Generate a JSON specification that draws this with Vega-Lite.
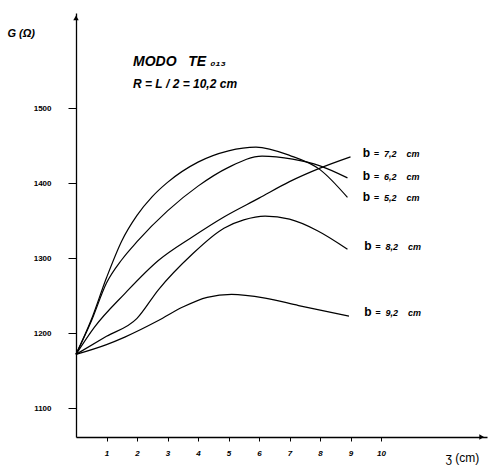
{
  "$schema": "https://vega.github.io/schema/vega-lite/v6.json",
  "autosize": "none",
  "width": 411,
  "height": 424,
  "padding": {"left": 76, "top": 13, "right": 3, "bottom": 29},
  "background": "white",
  "title": {
    "text": "MODO\u00a0\u00a0\u00a0TE\u00a0₀₁₃",
    "subtitle": "R\u00a0=\u00a0L\u00a0/\u00a02\u00a0=\u00a010,2\u00a0cm",
    "anchor": "start",
    "frame": "group",
    "offset": -77,
    "dx": 57,
    "font": "Liberation Sans",
    "fontSize": 14,
    "fontWeight": "bold",
    "fontStyle": "italic",
    "color": "black",
    "subtitleFont": "Liberation Sans",
    "subtitleFontSize": 12,
    "subtitleFontWeight": "bold",
    "subtitleFontStyle": "italic",
    "subtitleColor": "black",
    "subtitlePadding": 10
  },
  "datasets": {
    "curves": [
      {"b": "5,2", "x": 0, "G": 1172}, {"b": "5,2", "x": 0.5, "G": 1218}, {"b": "5,2", "x": 1, "G": 1274}, {"b": "5,2", "x": 1.5, "G": 1323}, {"b": "5,2", "x": 2, "G": 1357}, {"b": "5,2", "x": 2.5, "G": 1382}, {"b": "5,2", "x": 3, "G": 1401}, {"b": "5,2", "x": 4, "G": 1428}, {"b": "5,2", "x": 5, "G": 1443}, {"b": "5,2", "x": 5.9, "G": 1448}, {"b": "5,2", "x": 7, "G": 1437}, {"b": "5,2", "x": 8, "G": 1418}, {"b": "5,2", "x": 8.9, "G": 1381},
      {"b": "6,2", "x": 0, "G": 1172}, {"b": "6,2", "x": 0.5, "G": 1216}, {"b": "6,2", "x": 1, "G": 1267}, {"b": "6,2", "x": 1.5, "G": 1298}, {"b": "6,2", "x": 2, "G": 1322}, {"b": "6,2", "x": 3, "G": 1363}, {"b": "6,2", "x": 4, "G": 1396}, {"b": "6,2", "x": 5, "G": 1421}, {"b": "6,2", "x": 6.1, "G": 1436}, {"b": "6,2", "x": 7.1, "G": 1432}, {"b": "6,2", "x": 8, "G": 1423}, {"b": "6,2", "x": 8.9, "G": 1407},
      {"b": "7,2", "x": 0, "G": 1172}, {"b": "7,2", "x": 0.6, "G": 1208}, {"b": "7,2", "x": 1.6, "G": 1253}, {"b": "7,2", "x": 2.7, "G": 1297}, {"b": "7,2", "x": 3.8, "G": 1328}, {"b": "7,2", "x": 4.85, "G": 1355}, {"b": "7,2", "x": 6, "G": 1380}, {"b": "7,2", "x": 7, "G": 1402}, {"b": "7,2", "x": 8, "G": 1420}, {"b": "7,2", "x": 9, "G": 1435},
      {"b": "8,2", "x": 0, "G": 1172}, {"b": "8,2", "x": 1, "G": 1196}, {"b": "8,2", "x": 2, "G": 1220}, {"b": "8,2", "x": 2.7, "G": 1258}, {"b": "8,2", "x": 3.8, "G": 1305}, {"b": "8,2", "x": 4.85, "G": 1340}, {"b": "8,2", "x": 5.5, "G": 1351}, {"b": "8,2", "x": 6.2, "G": 1356}, {"b": "8,2", "x": 7, "G": 1352}, {"b": "8,2", "x": 7.9, "G": 1337}, {"b": "8,2", "x": 8.9, "G": 1312},
      {"b": "9,2", "x": 0, "G": 1172}, {"b": "9,2", "x": 1, "G": 1185}, {"b": "9,2", "x": 1.6, "G": 1195}, {"b": "9,2", "x": 2.7, "G": 1217}, {"b": "9,2", "x": 3.5, "G": 1235}, {"b": "9,2", "x": 4.3, "G": 1248}, {"b": "9,2", "x": 5.1, "G": 1252}, {"b": "9,2", "x": 6.2, "G": 1247}, {"b": "9,2", "x": 7.3, "G": 1237}, {"b": "9,2", "x": 8.95, "G": 1223}
    ],
    "labels": [
      {"b": "7,2", "x": 9.4, "G": 1440, "rest": "=\u00a0\u00a07,2\u00a0\u00a0\u00a0\u00a0cm"},
      {"b": "6,2", "x": 9.4, "G": 1409, "rest": "=\u00a0\u00a06,2\u00a0\u00a0\u00a0\u00a0cm"},
      {"b": "5,2", "x": 9.4, "G": 1381, "rest": "=\u00a0\u00a05,2\u00a0\u00a0\u00a0\u00a0cm"},
      {"b": "8,2", "x": 9.45, "G": 1316, "rest": "=\u00a0\u00a08,2\u00a0\u00a0\u00a0\u00a0cm"},
      {"b": "9,2", "x": 9.45, "G": 1228, "rest": "=\u00a0\u00a09,2\u00a0\u00a0\u00a0\u00a0cm"}
    ],
    "arrows": [
      {"x": 0, "G": 1620, "dir": "up"},
      {"x": 13.3, "G": 1062, "dir": "right"}
    ]
  },
  "layer": [
    {
      "data": {"name": "curves"},
      "mark": {"type": "line", "color": "black", "strokeWidth": 1.2, "interpolate": "monotone"},
      "encoding": {
        "x": {
          "field": "x", "type": "quantitative",
          "scale": {"domain": [0, 13.475], "nice": false, "zero": false},
          "axis": {
            "values": [1, 2, 3, 4, 5, 6, 7, 8, 9, 10],
            "grid": false,
            "domainColor": "black", "domainWidth": 1.3,
            "tickColor": "black", "tickSize": 4,
            "labelFont": "Liberation Sans", "labelFontSize": 8, "labelFontWeight": "bold", "labelFontStyle": "italic",
            "labelColor": "black", "labelPadding": 8,
            "title": "ʒ (cm)",
            "titleFont": "Liberation Sans", "titleFontSize": 12, "titleFontWeight": "normal", "titleColor": "black",
            "titleAnchor": "start", "titleAlign": "left", "titleX": 369, "titleY": 20, "titleBaseline": "middle"
          }
        },
        "y": {
          "field": "G", "type": "quantitative",
          "scale": {"domain": [1062, 1626.5], "nice": false, "zero": false},
          "axis": {
            "values": [1100, 1200, 1300, 1400, 1500],
            "format": "d",
            "grid": false,
            "domainColor": "black", "domainWidth": 1.3,
            "tickColor": "black", "tickSize": 8,
            "labelFont": "Liberation Sans", "labelFontSize": 8, "labelFontWeight": "bold",
            "labelColor": "black", "labelPadding": 17,
            "title": "G (Ω)",
            "titleFont": "Liberation Sans", "titleFontSize": 11, "titleFontWeight": "bold", "titleFontStyle": "italic", "titleColor": "black",
            "titleAngle": 0, "titleAlign": "left", "titleX": -69, "titleY": 20, "titleBaseline": "middle"
          }
        },
        "detail": {"field": "b"}
      }
    },
    {
      "data": {"name": "labels"},
      "mark": {"type": "text", "align": "left", "baseline": "middle", "font": "Liberation Sans", "fontSize": 12, "fontWeight": "bold", "color": "black"},
      "encoding": {
        "x": {"field": "x", "type": "quantitative"},
        "y": {"field": "G", "type": "quantitative"},
        "text": {"value": "b"}
      }
    },
    {
      "data": {"name": "labels"},
      "mark": {"type": "text", "align": "left", "baseline": "middle", "dx": 11, "dy": 1, "font": "Liberation Sans", "fontSize": 9, "fontWeight": "bold", "fontStyle": "italic", "color": "black"},
      "encoding": {
        "x": {"field": "x", "type": "quantitative"},
        "y": {"field": "G", "type": "quantitative"},
        "text": {"field": "rest"}
      }
    },
    {
      "data": {"name": "arrows"},
      "mark": {"type": "point", "filled": true, "color": "black", "size": 30, "opacity": 1},
      "encoding": {
        "x": {"field": "x", "type": "quantitative"},
        "y": {"field": "G", "type": "quantitative"},
        "shape": {"field": "dir", "type": "nominal", "scale": {"domain": ["up", "right"], "range": ["triangle-up", "triangle-right"]}, "legend": null}
      }
    }
  ],
  "config": {"view": {"stroke": null}}
}
